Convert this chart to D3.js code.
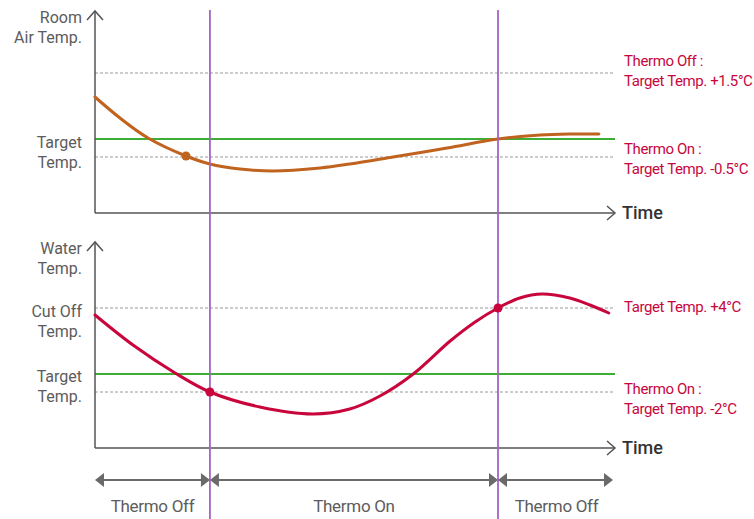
<!DOCTYPE html>
<html>
<head>
<meta charset="utf-8">
<script src="https://cdn.jsdelivr.net/npm/d3@7"></script>
<style>
  html, body { margin: 0; padding: 0; background: #fff; }
  svg { display: block; font-family: Roboto, "Noto Sans", sans-serif; }
</style>
</head>
<body>
<svg id="chart" width="754" height="519"></svg>
<script>
// ---------- DATA ----------
// time axis in arbitrary units (0 .. 100), values in arbitrary level units (0 .. 100)
const roomTime  = [0, 4.8, 10.2, 17.5, 22.1, 27.9, 34.2, 43.3, 49.0, 57.3, 67.7, 77.5, 85.6, 91.3, 96.9];
const roomTemp  = [58, 47.5, 37.5, 28.5, 24.5, 22, 21, 22.5, 24.5, 28, 32.5, 37, 39, 39.5, 39.5];
const waterTime = [0, 7.3, 15.4, 22.1, 31.7, 41.9, 49.0, 54.8, 61.2, 68.3, 73.1, 77.5, 81.7, 86.0, 91.3, 95.2, 98.8];
const waterTemp = [66.5, 51.5, 37.5, 28, 20.5, 17, 19.5, 26, 37, 53.5, 63, 70, 75, 77, 75, 71.5, 67.5];

const roomMarkers  = [17.5];          // time of the orange dot
const waterMarkers = [22.1, 77.5];    // times of red dots
const switchTimes  = [22.1, 77.5];    // purple vertical lines
const phaseBounds  = [0, 22.1, 77.5, 100];
const phaseLabels  = ["Thermo Off", "Thermo On", "Thermo Off"];

// reference levels
const roomLevels  = { off: 70, target: 37, on: 28 };
const waterLevels = { cutoff: 70, target: 37, on: 28 };

const roomAxisLabels   = [["Room", "Air Temp."], ["Target", "Temp."]];
const waterAxisLabels  = [["Water", "Temp."], ["Cut Off", "Temp."], ["Target", "Temp."]];
const roomRightLabels  = [["Thermo Off :", "Target Temp. +1.5°C"], ["Thermo On :", "Target Temp. -0.5°C"]];
const waterRightLabels = [["Target Temp. +4°C"], ["Thermo On :", "Target Temp. -2°C"]];

// ---------- DRAW ----------
const svg = d3.select("#chart");
const GRAY = "#5c5c5c", AXIS = "#555", RED = "#c8063c", ORANGE = "#c0631f",
      GREEN = "#3ead34", PURPLE = "#a562c6", DASH = "#9a9a9a";

const x = d3.scaleLinear().domain([0, 100]).range([95, 615]);
const yTop = d3.scaleLinear().domain([0, 100]).range([213, 13]);
const yBot = d3.scaleLinear().domain([0, 100]).range([448, 248]);

const line = (ys) => d3.line().x(d => x(d[0])).y(d => ys(d[1])).curve(d3.curveCatmullRom.alpha(0.5));

function panel(ys, levels, dashedKeys, series, color, axisTop) {
  const g = svg.append("g");
  dashedKeys.forEach(k => {
    g.append("line").attr("x1", x(0)).attr("x2", x(100))
      .attr("y1", ys(levels[k])).attr("y2", ys(levels[k]))
      .attr("stroke", DASH).attr("stroke-width", 1).attr("stroke-dasharray", "3,2");
  });
  g.append("line").attr("x1", x(0)).attr("x2", x(100))
    .attr("y1", ys(levels.target)).attr("y2", ys(levels.target))
    .attr("stroke", GREEN).attr("stroke-width", 2);
  g.append("line").attr("x1", x(0)).attr("x2", x(0)).attr("y1", ys(0)).attr("y2", axisTop)
    .attr("stroke", AXIS).attr("stroke-width", 1.5);
  g.append("line").attr("x1", x(0)).attr("x2", x(100)).attr("y1", ys(0)).attr("y2", ys(0))
    .attr("stroke", AXIS).attr("stroke-width", 1.5);
  g.append("path").attr("d", `M${x(0)-8},${axisTop+9} L${x(0)},${axisTop} L${x(0)+8},${axisTop+9}`)
    .attr("fill", "none").attr("stroke", AXIS).attr("stroke-width", 1.5);
  g.append("path").attr("d", `M${x(100)-8},${ys(0)-7} L${x(100)},${ys(0)} L${x(100)-8},${ys(0)+7}`)
    .attr("fill", "none").attr("stroke", AXIS).attr("stroke-width", 1.5);
  g.append("text").attr("x", 622).attr("y", ys(0) + 6).attr("font-size", 18)
    .attr("font-weight", 500).attr("fill", "#333").text("Time");
  g.append("path").datum(series).attr("d", line(ys)).attr("fill", "none")
    .attr("stroke", color).attr("stroke-width", 3).attr("stroke-linecap", "round");
  return g;
}

const roomSeries = roomTime.map((t, i) => [t, roomTemp[i]]);
const waterSeries = waterTime.map((t, i) => [t, waterTemp[i]]);

panel(yTop, roomLevels, ["off", "on"], roomSeries, ORANGE, 11);
panel(yBot, waterLevels, ["cutoff", "on"], waterSeries, RED, 242);

// purple switch lines
svg.selectAll("line.sw").data(switchTimes).join("line").attr("class", "sw")
  .attr("x1", d => x(d)).attr("x2", d => x(d)).attr("y1", 10).attr("y2", 519)
  .attr("stroke", PURPLE).attr("stroke-width", 1.8);

function valueAt(times, vals, t) { return vals[times.indexOf(t)]; }
svg.selectAll("circle.room").data(roomMarkers).join("circle").attr("class", "room")
  .attr("cx", d => x(d)).attr("cy", d => yTop(valueAt(roomTime, roomTemp, d))).attr("r", 4.5).attr("fill", ORANGE);
svg.selectAll("circle.water").data(waterMarkers).join("circle").attr("class", "water")
  .attr("cx", d => x(d)).attr("cy", d => yBot(valueAt(waterTime, waterTemp, d))).attr("r", 4.5).attr("fill", RED);

function leftLabel(lines, baseY) {
  const t = svg.append("text").attr("text-anchor", "end").attr("font-size", 16).attr("fill", GRAY);
  lines.forEach((s, i) => t.append("tspan").attr("x", 82).attr("y", baseY + i * 19.5).text(s));
}
leftLabel(roomAxisLabels[0], 23);
leftLabel(roomAxisLabels[1], 148);
leftLabel(waterAxisLabels[0], 254);
leftLabel(waterAxisLabels[1], 317);
leftLabel(waterAxisLabels[2], 382);

function rightLabel(lines, baseY) {
  const t = svg.append("text").attr("font-size", 15).attr("letter-spacing", -0.4).attr("fill", RED);
  lines.forEach((s, i) => t.append("tspan").attr("x", 624).attr("y", baseY + i * 20).text(s));
}
rightLabel(roomRightLabels[0], 66);
rightLabel(roomRightLabels[1], 154);
rightLabel(waterRightLabels[0], 312);
rightLabel(waterRightLabels[1], 394);

const arrowY = 480;
const phases = phaseLabels.map((lab, i) => ({ lab, a: phaseBounds[i], b: phaseBounds[i + 1] }));
const pg = svg.append("g");
phases.forEach(p => {
  const xa = x(p.a), xb = x(p.b) - (p.b === 100 ? 2 : 0);
  pg.append("line").attr("x1", xa + 6).attr("x2", xb - 6).attr("y1", arrowY).attr("y2", arrowY)
    .attr("stroke", "#6a6a6a").attr("stroke-width", 2);
  pg.append("path").attr("d", `M${xa},${arrowY} L${xa+9},${arrowY-7} L${xa+9},${arrowY+7} Z`).attr("fill", "#6a6a6a");
  pg.append("path").attr("d", `M${xb},${arrowY} L${xb-9},${arrowY-7} L${xb-9},${arrowY+7} Z`).attr("fill", "#6a6a6a");
  pg.append("text").attr("x", (x(p.a) + x(p.b)) / 2).attr("y", 512).attr("text-anchor", "middle")
    .attr("font-size", 17).attr("letter-spacing", -0.3).attr("fill", GRAY).text(p.lab);
});
</script>
</body>
</html>
